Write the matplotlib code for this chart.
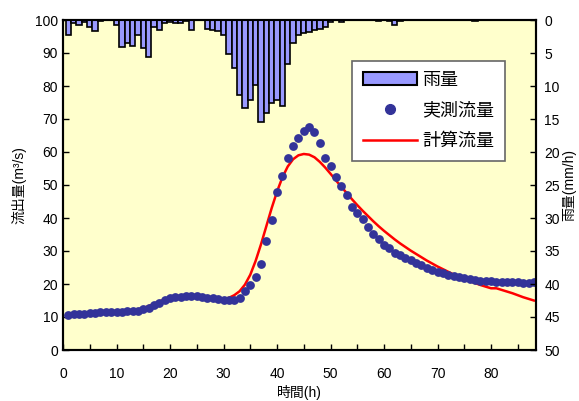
import numpy as np
import matplotlib.pyplot as plt
from matplotlib.patches import Patch
from matplotlib.lines import Line2D

plt.rcParams['font.family'] = ['Liberation Sans', 'Noto Sans CJK JP', 'DejaVu Sans']

# hours
hours = list(range(1, 89))

# rainfall (mm/h)
rain = [2.3, 0.5, 0.8, 0.3, 1.0, 1.6, 0.1, 0.0, 0.0, 0.8,
        4.1, 3.5, 4.0, 2.3, 4.3, 5.6, 1.0, 1.5, 0.5, 0.3,
        0.5, 0.5, 0.2, 1.5, 0.0, 0.0, 1.3, 1.5, 1.7, 2.3,
        5.1, 7.3, 11.4, 13.4, 12.1, 9.8, 15.4, 14.1, 12.5, 12.1,
        13.1, 6.6, 3.5, 2.3, 2.0, 1.8, 1.5, 1.3, 1.0, 0.3,
        0.0, 0.3, 0.0, 0.0, 0.0, 0.0, 0.0, 0.0, 0.2, 0.0,
        0.2, 0.8, 0.2, 0.0, 0.0, 0.0, 0.0, 0.0, 0.0, 0.0,
        0.0, 0.0, 0.0, 0.0, 0.0, 0.0, 0.2, 0.0, 0.0, 0.0,
        0.0, 0.0, 0.0, 0.0, 0.0, 0.0, 0.0, 0.0]

# observed flow (m3/s)
q_obs = [10.6, 10.9, 11.0, 11.0, 11.1, 11.3, 11.4, 11.4, 11.4, 11.5,
         11.6, 11.7, 11.8, 11.9, 12.3, 12.8, 13.5, 14.3, 15.2, 15.7,
         16.0, 16.2, 16.4, 16.4, 16.3, 16.0, 15.8, 15.8, 15.4, 15.2,
         15.2, 15.3, 15.7, 18.0, 19.7, 22.0, 26.1, 33.1, 39.5, 47.9,
         52.8, 58.3, 61.8, 64.1, 66.5, 67.7, 66.2, 62.8, 58.3, 55.8,
         52.5, 49.7, 46.9, 43.2, 41.6, 39.8, 37.4, 35.2, 33.5, 31.8,
         30.8, 29.5, 28.8, 28.0, 27.3, 26.5, 25.7, 25.0, 24.3, 23.7,
         23.2, 22.8, 22.3, 22.0, 21.8, 21.5, 21.2, 21.0, 20.9, 20.8,
         20.7, 20.6, 20.6, 20.5, 20.5, 20.4, 20.4, 20.5]

# computed flow (m3/s)
q_calc = [10.5, 10.7, 10.9, 11.0, 11.1, 11.2, 11.3, 11.4, 11.5, 11.6,
          11.7, 11.8, 12.0, 12.3, 12.7, 13.3, 14.0, 14.7, 15.3, 15.8,
          16.2, 16.4, 16.5, 16.5, 16.3, 16.0, 15.7, 15.4, 15.3, 15.4,
          15.8, 16.6, 17.8, 19.8, 22.8, 27.0, 32.0, 37.5, 43.0, 48.0,
          52.3, 55.6, 57.8, 59.0, 59.4, 59.2, 58.4, 57.0, 55.3, 53.4,
          51.4, 49.5, 47.6, 45.7, 43.9, 42.2, 40.6, 39.0, 37.5, 36.1,
          34.8, 33.5, 32.3, 31.2, 30.1, 29.1, 28.1, 27.1, 26.2, 25.3,
          24.5, 23.7, 22.9, 22.2, 21.5, 20.9, 20.3, 19.7, 19.2, 18.7,
          18.7, 18.2, 17.7, 17.2, 16.6, 16.0, 15.5, 15.0]

fig = plt.figure(figsize=(5.79, 4.01), dpi=100)
ax = fig.add_axes([63/579, 51/401, 473/579, 330/401])
ax.set_facecolor('#FFFFCC')

ax.plot(hours, q_calc, color='red', lw=1.8, zorder=3)
ax.scatter(hours, q_obs, s=40, color='#333399', zorder=4, linewidths=0)

ax.set_xlim(0, 88.4)
ax.set_ylim(0, 100)
ax.set_xticks(range(0, 81, 10))
ax.set_xticks(range(0, 89, 5), minor=True)
ax.set_yticks(range(0, 101, 10))
ax.tick_params(direction='in', labelsize=10, width=1, length=4)
ax.tick_params(axis='x', pad=12)
ax.tick_params(which='minor', direction='in', length=4, width=1)
ax.set_xlabel('時間(h)', fontsize=10, labelpad=3)
ax.set_ylabel('流出量(m³/s)', fontsize=10, labelpad=6)

ax2 = ax.twinx()
ax2.bar(hours, rain, width=1.0, color='#9999FF', edgecolor='black', linewidth=1.2, zorder=2)
ax2.set_ylim(50, 0)
ax2.set_yticks(range(0, 51, 5))
ax2.tick_params(direction='in', labelsize=10, width=1, length=4, pad=6)
ax2.set_ylabel('雨量(mm/h)', fontsize=10, labelpad=2)

for a in (ax, ax2):
    for s in a.spines.values():
        s.set_linewidth(1.5)

handles = [Patch(facecolor='#9999FF', edgecolor='black', linewidth=1.5),
           Line2D([], [], marker='o', ls='', color='#333399', markersize=7),
           Line2D([], [], color='red', lw=1.8)]
leg = ax2.legend(handles, ['雨量', '実測流量', '計算流量'], loc='upper left',
                 bbox_to_anchor=(289/473, 1 - 41/330), borderaxespad=0,
                 fontsize=13, fancybox=False, framealpha=1, edgecolor='#666666',
                 handlelength=3.0, handletextpad=0.3, borderpad=0.6,
                 labelspacing=0.75)
leg.get_frame().set_linewidth(1.2)

fig.savefig('out.png', dpi=100)
